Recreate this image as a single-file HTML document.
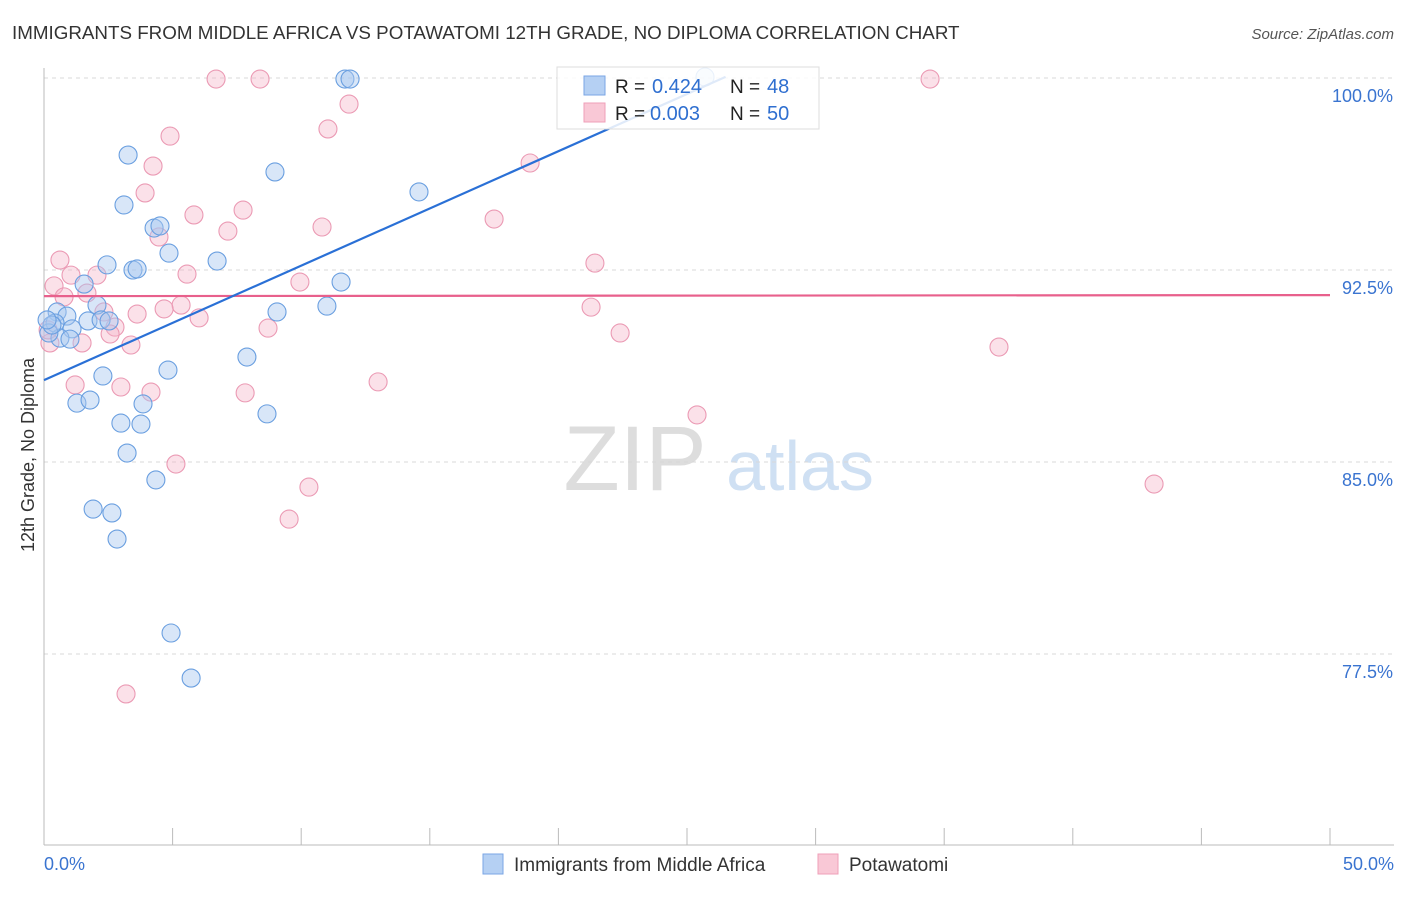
<!DOCTYPE html>
<html><head><meta charset="utf-8">
<style>
body{margin:0;background:#fff;font-family:"Liberation Sans",sans-serif;}
svg text{font-family:"Liberation Sans",sans-serif;}
</style></head>
<body>
<svg id="chart" width="1406" height="892" xmlns="http://www.w3.org/2000/svg">
<text x="12" y="39" font-size="18.8" fill="#333">IMMIGRANTS FROM MIDDLE AFRICA VS POTAWATOMI 12TH GRADE, NO DIPLOMA CORRELATION CHART</text>
<text x="1394" y="39" font-size="15" fill="#555" font-style="italic" text-anchor="end">Source: ZipAtlas.com</text>
<g>
<text x="635" y="490" font-size="92" fill="#ddd" font-family="Liberation Serif" text-anchor="middle">ZIP</text>
<text x="800" y="490" font-size="70" fill="#cfe0f3" text-anchor="middle">atlas</text>
</g>
<g id="grid"></g>
<g id="axes"></g>
<g id="marks"></g>
<text x="0" y="0" font-size="18" fill="#333" text-anchor="middle" transform="translate(34,455) rotate(-90)">12th Grade, No Diploma</text>
<g>
<rect x="557" y="67" width="262" height="62" fill="#fff" fill-opacity="0.85" stroke="#ddd"/>
<rect x="584" y="76" width="21" height="19" fill="#b5d0f3" stroke="#7aa6e4"/>
<rect x="584" y="103" width="21" height="19" fill="#f9c8d6" stroke="#ef9fb8"/>
<text x="615" y="93" font-size="19" fill="#222">R = </text><text x="652" y="93" font-size="20" fill="#2f6fd0">0.424</text>
<text x="730" y="93" font-size="19" fill="#222">N = </text><text x="767" y="93" font-size="20" fill="#2f6fd0">48</text>
<text x="615" y="120" font-size="19" fill="#222">R = </text><text x="650" y="120" font-size="20" fill="#2f6fd0">0.003</text>
<text x="730" y="120" font-size="19" fill="#222">N = </text><text x="767" y="120" font-size="20" fill="#2f6fd0">50</text>
</g>
<g>
<rect x="483" y="854" width="20" height="20" fill="#b5d0f3" stroke="#7aa6e4"/>
<text x="514" y="871" font-size="19" fill="#333">Immigrants from Middle Africa</text>
<rect x="818" y="854" width="20" height="20" fill="#f9c8d6" stroke="#ef9fb8"/>
<text x="849" y="871" font-size="19" fill="#333">Potawatomi</text>
</g>
</svg>
<script>
const yTicks=[100,92.5,85,77.5];
const yTickLabels=["100.0%","92.5%","85.0%","77.5%"];
const xEndLabels=["0.0%","50.0%"];
const blueX=[3.27,3.11,8.98,14.58,11.70,11.90,4.28,4.51,4.86,6.73,2.45,3.46,3.62,1.56,11.55,11.00,2.06,9.06,0.51,0.89,0.43,1.09,1.71,2.22,2.53,0.62,0.19,1.01,7.89,4.82,2.29,1.28,1.79,3.85,8.67,2.99,3.77,3.23,4.35,1.91,2.64,2.84,4.94,5.72,0.31,0.12,25.70];
const blueY=[96.99,95.04,96.33,95.55,99.96,99.96,94.14,94.22,93.16,92.85,92.70,92.50,92.54,91.95,92.03,91.09,91.13,90.86,90.86,90.70,90.43,90.20,90.51,90.55,90.51,89.84,90.04,89.80,89.10,88.59,88.36,87.30,87.42,87.27,86.88,86.52,86.48,85.35,84.30,83.16,83.01,81.99,78.32,76.56,90.35,90.55,100.04];
const pinkX=[6.69,8.40,34.45,11.86,11.04,4.90,4.24,18.90,3.93,7.74,5.83,17.50,10.81,7.15,4.47,0.62,21.42,1.05,5.56,2.06,0.39,9.95,0.78,1.67,5.33,21.27,4.67,3.62,6.03,2.33,2.76,8.71,2.57,22.40,1.48,3.38,0.23,37.13,12.99,1.21,2.99,4.16,7.82,25.39,5.13,10.30,43.16,9.53,3.19,0.16];
const pinkY=[99.96,99.96,99.96,98.98,98.01,97.73,96.56,96.68,95.51,94.84,94.65,94.49,94.18,94.02,93.79,92.89,92.77,92.30,92.34,92.30,91.88,92.03,91.45,91.60,91.13,91.05,90.98,90.78,90.63,90.86,90.27,90.23,90.00,90.04,89.65,89.57,89.65,89.49,88.13,88.01,87.93,87.73,87.70,86.84,84.92,84.02,84.14,82.77,75.94,90.16];
const blueTrend=[88.2,0.447,0,26.5];
const pinkTrend=[91.48,0.0008,0,50];

const NS="http://www.w3.org/2000/svg";
const X=v=>44+v*25.72;
const Y=v=>78+(100-v)*25.6;
function mk(tag,attrs,parent){const e=document.createElementNS(NS,tag);for(const k in attrs)e.setAttribute(k,attrs[k]);parent.appendChild(e);return e;}
const grid=document.getElementById('grid'),axes=document.getElementById('axes'),marks=document.getElementById('marks');
yTicks.forEach((t,i)=>{
 const l=mk('line',{x1:44,x2:1394,y1:Y(t),y2:Y(t),stroke:'#d8d8d8','stroke-dasharray':'4,4'},grid);
 
 
 const tx=mk('text',{x:1393,y:Y(t)+24,'font-size':18,fill:'#3a74d0','text-anchor':'end'},axes);
 tx.textContent=yTickLabels[i];
 
 
});
const ya=mk('line',{x1:44,x2:44,y1:68,y2:845,stroke:'#bbb'},axes);


const xa=mk('line',{x1:44,x2:1394,y1:845,y2:845,stroke:'#bbb'},axes);


for(let i=0;i<=10;i++){
 const t=mk('line',{x1:X(i*5),x2:X(i*5),y1:828,y2:845,stroke:'#bbb'},axes);
 
 
}
const xl0=mk('text',{x:44,y:870,'font-size':18,fill:'#3a74d0'},axes);xl0.textContent=xEndLabels[0];


const xl1=mk('text',{x:1394,y:870,'font-size':18,fill:'#3a74d0','text-anchor':'end'},axes);xl1.textContent=xEndLabels[1];


pinkX.forEach((x,i)=>{
 const c=mk('circle',{cx:X(x),cy:Y(pinkY[i]),r:9,fill:'#f5b3c8','fill-opacity':0.4,stroke:'#eb9ab4','stroke-width':1.1},marks);
 
 
});
blueX.forEach((x,i)=>{
 const c=mk('circle',{cx:X(x),cy:Y(blueY[i]),r:9,fill:'#a9c8f0','fill-opacity':0.45,stroke:'#6a9fe0','stroke-width':1.1},marks);
 
 
});
function trend(t,color,name){
 const l=mk('line',{x1:X(t[2]),y1:Y(t[0]+t[1]*t[2]),x2:X(t[3]),y2:Y(t[0]+t[1]*t[3]),stroke:color,'stroke-width':2.2},marks);
 
 
}
trend(pinkTrend,'#e8608c','potawatomi-trend-line');
trend(blueTrend,'#2a70d6','africa-trend-line');
</script>
</body></html>
